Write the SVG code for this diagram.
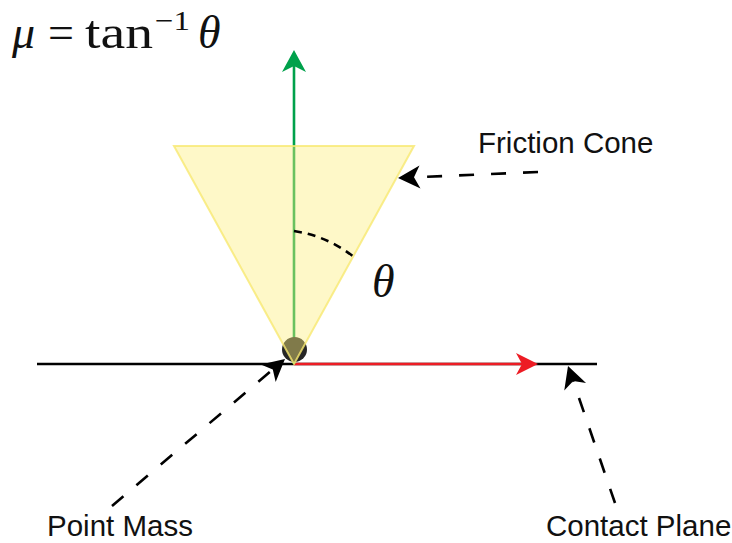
<svg xmlns="http://www.w3.org/2000/svg" width="732" height="543" viewBox="0 0 732 543">
<style>
.lbl{font-family:"Liberation Sans",Arial,sans-serif;font-size:29.5px;fill:#111}
.math{font-family:"Liberation Serif","Times New Roman",serif;fill:#111}
.it{font-style:italic}
.dash{fill:none;stroke:#000;stroke-width:2.6;stroke-dasharray:15 17}
</style>
<defs>
<marker id="ahK" markerUnits="userSpaceOnUse" viewBox="-8 -13 26 26" refX="0" refY="0" markerWidth="26" markerHeight="26" orient="auto">
<path d="M16,0 L-6,-11.5 L0,0 L-6,11.5 Z" fill="#000"/>
</marker>
<marker id="ahG" markerUnits="userSpaceOnUse" viewBox="-8 -13 26 26" refX="0" refY="0" markerWidth="26" markerHeight="26" orient="auto">
<path d="M16,0 L-6,-12 L0,0 L-6,12 Z" fill="#00a14b"/>
</marker>
<marker id="ahR" markerUnits="userSpaceOnUse" viewBox="-8 -13 26 26" refX="0" refY="0" markerWidth="26" markerHeight="26" orient="auto">
<path d="M16,0 L-6,-11 L0,0 L-6,11 Z" fill="#ed1c24"/>
</marker>
</defs>
<rect width="732" height="543" fill="#fff"/>

<g id="contact-plane">
<line x1="37" y1="364" x2="597" y2="364" stroke="#000" stroke-width="2.6"/>
</g>
<g id="tangent-force">
<line x1="294" y1="364" x2="522" y2="364" stroke="#ed1c24" stroke-width="2.6" marker-end="url(#ahR)"/>
</g>
<g id="normal-force">
<line x1="294" y1="364" x2="294" y2="66" stroke="#00a14b" stroke-width="2.6" marker-end="url(#ahG)"/>
</g>
<g id="point-mass">
<circle cx="294.5" cy="349.5" r="12.5" fill="#262626"/>
</g>
<g id="friction-cone">
<polygon points="174,146 414,146 294,364" fill="#fcee7d" fill-opacity="0.42" stroke="#f7e970" stroke-opacity="0.8" stroke-width="2"/>
</g>
<g id="angle">
<path d="M294,231 A 126 126 0 0 1 354,257" fill="none" stroke="#000" stroke-width="2.6" stroke-dasharray="8 6"/>
<text class="math it" x="372" y="297" font-size="46">θ</text>
</g>

<g id="formula" class="math">
<text class="it" x="12" y="48" font-size="46">μ</text>
<text x="48" y="48" font-size="46">=</text>
<text x="85" y="48" font-size="46" textLength="68" lengthAdjust="spacingAndGlyphs">tan</text>
<text x="155" y="30" font-size="28" textLength="35" lengthAdjust="spacingAndGlyphs">−1</text>
<text class="it" x="198" y="48" font-size="46">θ</text>
</g>

<g id="labels">
<text class="lbl" x="47" y="536">Point Mass</text>
<text class="lbl" x="478" y="153">Friction Cone</text>
<text class="lbl" x="546" y="536">Contact Plane</text>
</g>

<g id="connectors">
<line class="dash" x1="538" y1="172" x2="414" y2="177.3" marker-end="url(#ahK)"/>
<line class="dash" x1="112" y1="506" x2="272.8" y2="369.4" marker-end="url(#ahK)"/>
<line class="dash" x1="615" y1="503" x2="573.2" y2="381.1" marker-end="url(#ahK)"/>
</g>
</svg>
